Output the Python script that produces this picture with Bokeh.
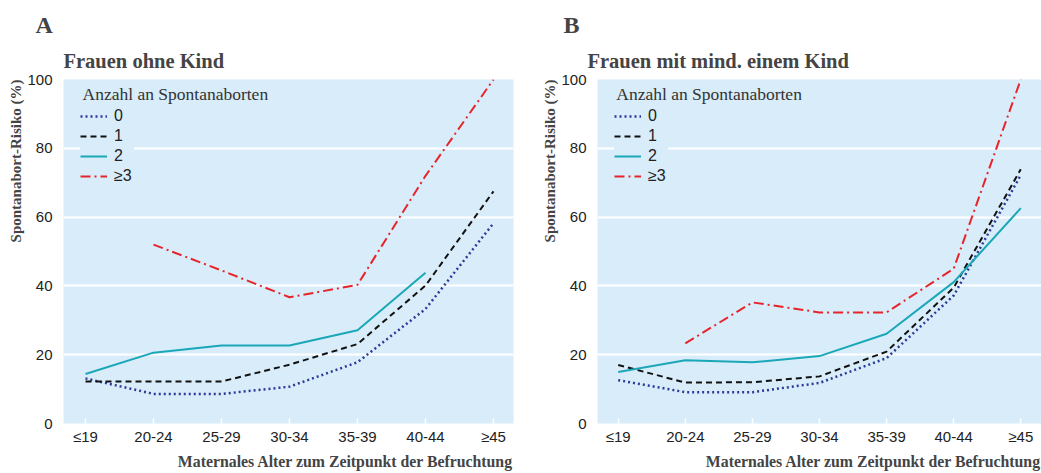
from bokeh.plotting import figure
from bokeh.models import Range1d, FixedTicker, Title, Legend, LegendItem, Label
from bokeh.layouts import row
from bokeh.embed import file_html
from bokeh.resources import INLINE

NaN = float("nan")

categories = ["≤19", "20-24", "25-29", "30-34", "35-39", "40-44", "≥45"]
series_labels = ["0", "1", "2", "≥3"]
y_ticks = [0, 20, 40, 60, 80, 100]

# Panel A: Frauen ohne Kind
a_0 = [13.1, 8.6, 8.6, 10.7, 17.8, 33.3, 58.2]
a_1 = [12.2, 12.2, 12.2, 17.1, 23.1, 40.1, 67.5]
a_2 = [14.4, 20.6, 22.7, 22.7, 27.1, 43.8, NaN]
a_3 = [NaN, 52.0, 44.5, 36.7, 40.3, 72.0, 100.0]

# Panel B: Frauen mit mind. einem Kind
b_0 = [12.6, 9.1, 9.1, 11.8, 19.0, 37.2, 72.2]
b_1 = [17.0, 11.9, 12.0, 13.7, 20.9, 39.5, 73.9]
b_2 = [15.0, 18.4, 17.8, 19.6, 26.1, 41.1, 62.6]
b_3 = [NaN, 23.3, 35.2, 32.3, 32.3, 45.0, 100.0]

BG = "#d8ecf9"
SANS = "Liberation Sans Narrow, Liberation Sans, Arial Narrow, sans-serif"
SERIF = "Liberation Serif, DejaVu Serif, serif"
styles = [
    dict(line_color="#2b3a9a", line_dash="2 3", line_width=2.5),
    dict(line_color="#111111", line_dash="6 4", line_width=2),
    dict(line_color="#1aa8b8", line_dash="solid", line_width=2),
    dict(line_color="#e8242b", line_dash="10 4 2 4", line_width=2),
]


def make_panel(series, width, left, frame_w, pad_left_px, letter, subtitle,
               letter_offset, subtitle_offset):
    px_per_cat = 68.0
    x0 = -pad_left_px / px_per_cat
    x1 = x0 + frame_w / px_per_cat
    right = width - left - frame_w
    p = figure(width=width, height=473, output_backend="svg", toolbar_location=None,
               x_range=Range1d(x0, x1), y_range=Range1d(0, 100),
               min_border_left=left, min_border_right=right,
               min_border_top=79, min_border_bottom=50)
    p.background_fill_color = BG
    p.border_fill_color = "white"
    p.outline_line_color = None

    xs = list(range(len(categories)))
    renderers = []
    for ys, st in zip(series, styles):
        r = p.line(xs, ys, **st)
        renderers.append(r)

    # axes
    p.xaxis.ticker = FixedTicker(ticks=xs)
    p.xaxis.major_label_overrides = {i: c for i, c in enumerate(categories)}
    p.xaxis.axis_line_color = None
    p.xaxis.major_tick_in = 5
    p.xaxis.major_tick_out = 0
    p.xaxis.major_tick_line_color = "white"
    p.xaxis.major_tick_line_width = 1.5
    p.xaxis.minor_tick_line_color = None
    p.xaxis.major_label_standoff = 4
    p.xaxis.major_label_text_font = SANS
    p.xaxis.major_label_text_font_size = "15px"
    p.xaxis.major_label_text_color = "#222222"

    p.yaxis.ticker = FixedTicker(ticks=y_ticks)
    p.yaxis.axis_line_color = None
    p.yaxis.major_tick_line_color = None
    p.yaxis.minor_tick_line_color = None
    p.yaxis.major_label_standoff = 5
    p.yaxis.major_label_text_font = SANS
    p.yaxis.major_label_text_font_size = "15px"
    p.yaxis.major_label_text_color = "#222222"

    p.xgrid.grid_line_color = None
    p.ygrid.ticker = FixedTicker(ticks=[20, 40, 60, 80])
    p.ygrid.grid_line_color = "white"
    p.ygrid.grid_line_width = 2

    # titles
    p.title.text = letter
    p.title.text_font = SERIF
    p.title.text_font_style = "bold"
    p.title.text_font_size = "24px"
    p.title.align = "left"
    p.title.offset = letter_offset
    p.title.standoff = 3
    sub = Title(text=subtitle, text_font=SERIF, text_font_style="bold",
                text_font_size="20.5px", align="left", offset=subtitle_offset,
                standoff=16)
    p.add_layout(sub, "above")

    ytitle = Title(text="Spontanabort-Risiko (%)", text_font=SERIF,
                   text_font_style="bold", text_font_size="15px", align="right",
                   offset=0, standoff=2)
    p.add_layout(ytitle, "left")
    xtitle = Title(text="Maternales Alter zum Zeitpunkt der Befruchtung",
                   text_font=SERIF, text_font_style="bold", text_font_size="15.8px",
                   align="right", offset=0, standoff=7)
    p.add_layout(xtitle, "below")

    # legend
    items = [LegendItem(label=lab, renderers=[r]) for lab, r in zip(series_labels, renderers)]
    legend = Legend(items=items, location=(17, 237), margin=0, padding=18,
                    spacing=0, glyph_width=27, glyph_height=20, label_height=20,
                    label_standoff=7, label_text_font=SANS,
                    label_text_font_size="16px", label_text_color="#222222",
                    background_fill_color=BG, background_fill_alpha=1.0,
                    border_line_color=None)
    p.add_layout(legend, "center")

    lt = Label(x=x0 + 19 / px_per_cat, y=95.8, text="Anzahl an Spontanaborten",
               text_font="Liberation Serif", text_font_size="17.5px",
               text_color="#333333", text_baseline="middle", level="overlay")
    p.add_layout(lt)
    return p


pA = make_panel([a_0, a_1, a_2, a_3], 538, 63, 450, 22, "A", "Frauen ohne Kind", -28, 0)
pB = make_panel([b_0, b_1, b_2, b_3], 503, 53, 450, 21, "B", "Frauen mit mind. einem Kind", -34, -10)

layout = row(pA, pB)
open("out.html", "w").write(file_html(layout, INLINE))
